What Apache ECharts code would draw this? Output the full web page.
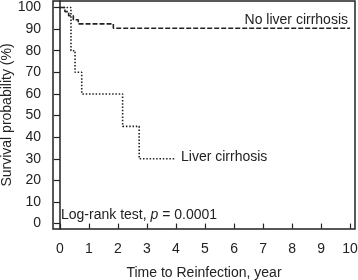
<!DOCTYPE html>
<html>
<head>
<meta charset="utf-8">
<script src="https://cdn.jsdelivr.net/npm/echarts@6/dist/echarts.min.js"></script>
<style>
  html, body { margin: 0; padding: 0; background: #fff; }
  #chart { width: 358px; height: 280px; }
</style>
</head>
<body>
<div id="chart"></div>
<script>
// KM curves
var noCirrhosisX = [0, 0.17, 0.3, 0.46, 0.63, 1.84, 10]
var noCirrhosisY = [100, 98.1, 96.2, 94.3, 92.4, 90.4, 90.4]
var cirrhosisX = [0, 0.38, 0.52, 0.75, 2.16, 2.73, 4.0]
var cirrhosisY = [100, 80, 70, 60, 45, 30, 30]
var yTicks = [0, 10, 20, 30, 40, 50, 60, 70, 80, 90, 100]
var xTicks = [0, 1, 2, 3, 4, 5, 6, 7, 8, 9, 10]

function pairs(xs, ys) {
  var out = []
  for (var i = 0; i < xs.length; i++) out.push([xs[i], ys[i]])
  return out
}

var ink = '#222'
var font = 'Liberation Sans, Arial, sans-serif'

var chart = echarts.init(document.getElementById('chart'))

var option = {
  animation: false,
  grid: {
    left: 53, right: 3, top: 1, bottom: 51,
    outerBoundsMode: 'none',
    containLabel: false,
    show: true,
    borderColor: ink,
    borderWidth: 1.5
  },
  xAxis: {
    type: 'value',
    min: -0.24,
    max: 10.17,
    offset: 2,
    splitLine: { show: false },
    axisLine: { show: false },
    axisTick: { show: true, length: 5, customValues: xTicks, lineStyle: { color: ink, width: 1.2 } },
    axisLabel: { customValues: xTicks, color: ink, fontSize: 14, fontFamily: font, margin: 11 },
    name: 'Time to Reinfection, year',
    nameLocation: 'middle',
    nameGap: 35,
    nameMoveOverlap: false,
    nameTextStyle: { color: ink, fontSize: 14, fontFamily: font }
  },
  yAxis: {
    type: 'value',
    min: -2.5,
    max: 103,
    splitLine: { show: false },
    axisLine: { show: true, lineStyle: { color: ink, width: 1.5 } },
    axisTick: { show: true, length: 6, customValues: yTicks, lineStyle: { color: ink, width: 1.2 } },
    axisLabel: { customValues: yTicks, color: ink, fontSize: 14, fontFamily: font, margin: 12 },
    name: 'Survival probability (%)',
    nameLocation: 'middle',
    nameGap: 39,
    nameMoveOverlap: false,
    nameTextStyle: { color: ink, fontSize: 14, fontFamily: font }
  },
  series: [
    {
      name: 'No liver cirrhosis',
      type: 'line',
      step: 'end',
      showSymbol: false,
      data: pairs(noCirrhosisX, noCirrhosisY),
      lineStyle: { color: ink, width: 1.6, type: [5, 2] }
    },
    {
      name: 'Liver cirrhosis',
      type: 'line',
      step: 'end',
      showSymbol: false,
      data: pairs(cirrhosisX, cirrhosisY),
      lineStyle: { color: ink, width: 1.6, type: [1.5, 1.8] }
    }
  ],
  graphic: [
    {
      type: 'text', right: 10, top: 13,
      style: { text: 'No liver cirrhosis', fill: ink, font: '14px ' + font }
    },
    {
      type: 'text', left: 181, top: 150,
      style: { text: 'Liver cirrhosis', fill: ink, font: '14px ' + font }
    },
    {
      type: 'text', left: 61, top: 208,
      style: {
        text: '{n|Log-rank test, }{i|p}{n| = 0.0001}',
        rich: {
          n: { fill: ink, fontSize: 14, fontFamily: font },
          i: { fill: ink, fontSize: 14, fontFamily: font, fontStyle: 'italic' }
        }
      }
    }
  ]
}

chart.setOption(option)
</script>
</body>
</html>
